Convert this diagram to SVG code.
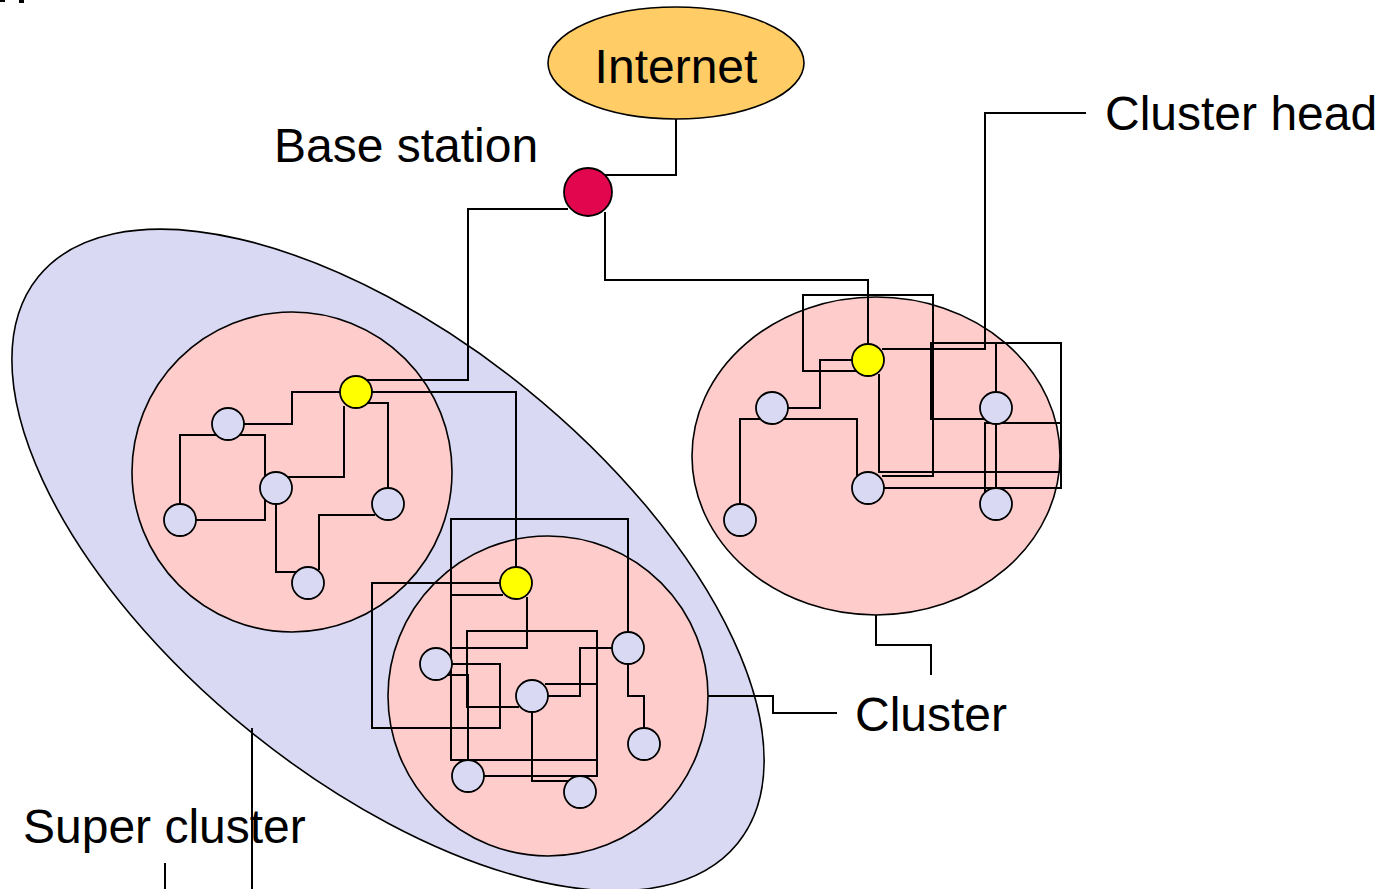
<svg xmlns="http://www.w3.org/2000/svg" width="1392" height="889" viewBox="0 0 1392 889">
<style>
.lbl{font-family:"Liberation Sans",Arial,sans-serif;font-size:48px;fill:#000}
.cl{fill:#FFCCCC;stroke:#000;stroke-width:1.6}
.sc{fill:#D9D9F3;stroke:#000;stroke-width:1.6}
.nd{fill:#D9D9F3;stroke:#000;stroke-width:1.8}
.hd{fill:#FFFF00;stroke:#000;stroke-width:1.8}
.ln{fill:none;stroke:#000;stroke-width:2}
</style>
<rect width="1392" height="889" fill="#fff"/>
<rect x="0" y="0" width="5" height="2" fill="#000"/>
<rect x="19" y="0" width="5" height="3" fill="#000"/>
<g id="super-cluster"><ellipse class="sc" cx="388" cy="560" rx="450" ry="220" transform="rotate(39 388 560)"/></g>
<g id="cluster-left"><circle class="cl" cx="292" cy="472" r="160"/></g>
<g id="cluster-bottom"><circle class="cl" cx="548" cy="696" r="160"/></g>
<g id="cluster-right"><ellipse class="cl" cx="876" cy="456" rx="184" ry="159"/></g>
<g id="internet"><ellipse cx="676" cy="63" rx="128" ry="56" fill="#FFCC66" stroke="#000" stroke-width="1.6"/><text class="lbl" x="676" y="83" text-anchor="middle">Internet</text></g>
<g id="connectors">
<path class="ln" d="M676,119 V175 H605"/>
<path class="ln" d="M568,209 H468 V380 H367"/>
<path class="ln" d="M605,212 V280 H868 V344"/>
<path class="ln" d="M372,392 H516 V568"/>
<path class="ln" d="M243,424 H292 V392 H340"/>
<path class="ln" d="M196,520 H265 V435 H180 V504"/>
<path class="ln" d="M288,477 H344 V406"/>
<path class="ln" d="M368,403 H388 V488"/>
<path class="ln" d="M276,504 V572 H296"/>
<path class="ln" d="M375,515 H319 V570"/>
<path class="ln" d="M500,583 H372 V728 H500 V664 H452"/>
<path class="ln" d="M519,707 H467 V631 H597 V776 H484"/>
<path class="ln" d="M448,675 H468 V760"/>
<path class="ln" d="M628,632 V519 H451 V760 H597"/>
<path class="ln" d="M527,597 V648 H451"/>
<path class="ln" d="M503,595 H451"/>
<path class="ln" d="M548,696 H580 V648 H612"/>
<path class="ln" d="M545,684 H597"/>
<path class="ln" d="M532,712 V781 H568"/>
<path class="ln" d="M628,664 V696 H644 V728"/>
<path class="ln" d="M882,476 H933 V295 H803 V371 H857"/>
<path class="ln" d="M852,360 H820 V408 H788"/>
<path class="ln" d="M740,504 V419 H857 V477"/>
<path class="ln" d="M882,349 H985 V113 H1086"/>
<path class="ln" d="M879,374 V472 H1061"/>
<path class="ln" d="M884,488 H1061 V343 H931 V419 H985"/>
<path class="ln" d="M996,343 V488"/>
<path class="ln" d="M985,492 V423 H1061"/>
<path class="ln" d="M876,615 V645 H931 V675"/>
<path class="ln" d="M708,696 H773 V713 H837"/>
<path class="ln" d="M252,728 V889"/>
<path class="ln" d="M165,863 V889"/>
</g>
<g id="base-station"><circle cx="588" cy="192" r="24" fill="#E2064E" stroke="#000" stroke-width="1.8"/></g>
<g id="head-left"><circle class="hd" cx="356" cy="392" r="16"/></g>
<g id="node-l1"><circle class="nd" cx="228" cy="424" r="16"/></g>
<g id="node-l2"><circle class="nd" cx="180" cy="520" r="16"/></g>
<g id="node-l3"><circle class="nd" cx="276" cy="488" r="16"/></g>
<g id="node-l4"><circle class="nd" cx="388" cy="504" r="16"/></g>
<g id="node-l5"><circle class="nd" cx="308" cy="583" r="16"/></g>
<g id="head-bottom"><circle class="hd" cx="516" cy="583" r="16"/></g>
<g id="node-b1"><circle class="nd" cx="436" cy="664" r="16"/></g>
<g id="node-b2"><circle class="nd" cx="532" cy="696" r="16"/></g>
<g id="node-b3"><circle class="nd" cx="628" cy="648" r="16"/></g>
<g id="node-b4"><circle class="nd" cx="644" cy="744" r="16"/></g>
<g id="node-b5"><circle class="nd" cx="468" cy="776" r="16"/></g>
<g id="node-b6"><circle class="nd" cx="580" cy="792" r="16"/></g>
<g id="head-right"><circle class="hd" cx="868" cy="360" r="16"/></g>
<g id="node-r1"><circle class="nd" cx="772" cy="408" r="16"/></g>
<g id="node-r2"><circle class="nd" cx="740" cy="520" r="16"/></g>
<g id="node-r3"><circle class="nd" cx="868" cy="488" r="16"/></g>
<g id="node-r4"><circle class="nd" cx="996" cy="408" r="16"/></g>
<g id="node-r5"><circle class="nd" cx="996" cy="504" r="16"/></g>
<g id="labels">
<text class="lbl" x="274" y="162">Base station</text>
<text class="lbl" x="1105" y="130">Cluster head</text>
<text class="lbl" x="855" y="731">Cluster</text>
<text class="lbl" x="23" y="843">Super cluster</text>
</g>
</svg>
